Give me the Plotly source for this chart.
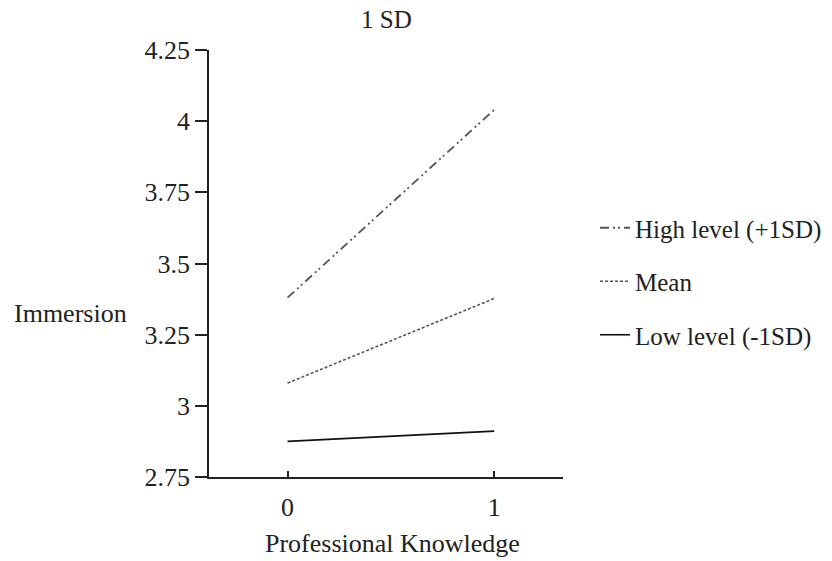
import plotly.graph_objects as go

# Data
x_levels = [0, 1]
x_ticklabels = ["0", "1"]
series_names = ["High level (+1SD)", "Mean", "Low level (-1SD)"]
high_vals = [3.38, 4.04]
mean_vals = [3.08, 3.377]
low_vals = [2.875, 2.911]
y_tickvals = [2.75, 3.0, 3.25, 3.5, 3.75, 4.0, 4.25]
y_ticklabels = ["2.75", "3", "3.25", "3.5", "3.75", "4", "4.25"]

W, H = 832, 561
L, R, T, B = 209, 269, 50, 84
FONT = "Liberation Serif, Times New Roman, serif"
FS = 26
FS_LEG = 25
TXT = "#222222"

fig = go.Figure()
styles = [
    dict(color="#555555", width=1.8, dash="9px,4px,2px,3px,2px,4px"),
    dict(color="#555555", width=1.6, dash="3px,2px"),
    dict(color="#111111", width=1.6, dash="solid"),
]
for i, (name, vals) in enumerate(zip(series_names, [high_vals, mean_vals, low_vals])):
    fig.add_trace(go.Scatter(
        x=x_levels, y=vals, mode="lines", name=name,
        line=styles[i], legendgroup=f"g{i}",
    ))

fig.update_layout(
    width=W, height=H,
    margin=dict(l=L, r=R, t=T, b=B),
    plot_bgcolor="white", paper_bgcolor="white",
    font=dict(family=FONT, size=FS, color=TXT),
    showlegend=True,
    legend=dict(
        xref="container", yref="container",
        x=595 / W, y=1 - 205 / H, xanchor="left", yanchor="top",
        font=dict(family=FONT, size=FS_LEG, color=TXT),
        bgcolor="rgba(0,0,0,0)", tracegroupgap=18, itemwidth=30,
    ),
    xaxis=dict(
        range=[-0.38, 1.333], tickvals=x_levels, ticktext=x_ticklabels,
        showgrid=False, zeroline=False, showline=True, linecolor="#222222", linewidth=1.5,
        ticks="inside", ticklen=6, tickcolor="#222222", tickwidth=1.5,
        ticklabelstandoff=6,
        tickfont=dict(family=FONT, size=FS, color=TXT),
    ),
    yaxis=dict(
        range=[2.75, 4.25], tickvals=y_tickvals, ticktext=y_ticklabels,
        showgrid=False, zeroline=False, showline=True, linecolor="#222222", linewidth=1.5,
        ticks="outside", ticklen=12, tickcolor="#222222", tickwidth=1.5,
        tickfont=dict(family=FONT, size=FS, color=TXT),
    ),
    annotations=[
        dict(text="1 SD", xref="paper", yref="paper", x=(386 - L) / (W - L - R),
             y=1 + (T - 20) / (H - T - B),
             xanchor="center", yanchor="middle", showarrow=False,
             font=dict(family=FONT, size=FS_LEG, color=TXT)),
        dict(text="Immersion", xref="paper", yref="paper", x=(70 - L) / (W - L - R),
             y=(H - B - 313) / (H - T - B), xanchor="center", yanchor="middle", showarrow=False,
             font=dict(family=FONT, size=FS, color=TXT)),
        dict(text="Professional Knowledge", xref="paper", yref="paper", x=(392 - L) / (W - L - R),
             y=(H - B - 543) / (H - T - B), xanchor="center", yanchor="middle", showarrow=False,
             font=dict(family=FONT, size=FS, color=TXT)),
    ],
)

fig.write_html("out.html", config={"displayModeBar": False},
               post_script="document.body.style.margin='0';")
